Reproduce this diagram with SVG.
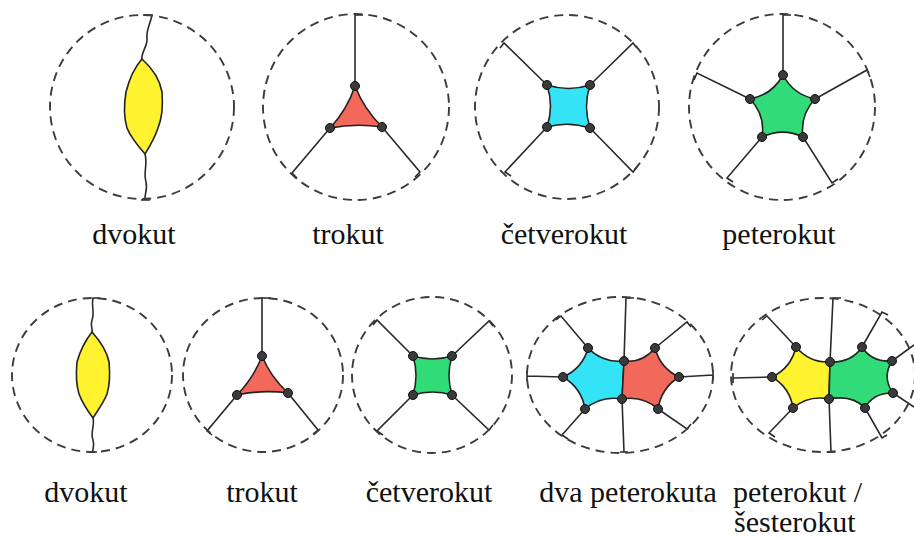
<svg xmlns="http://www.w3.org/2000/svg" width="914" height="539" viewBox="0 0 914 539">
<style>
.ring{fill:none;stroke:#3c3c3c;stroke-width:1.9;stroke-dasharray:9 6}
.edge{fill:none;stroke:#2a2a2a;stroke-width:1.6;stroke-linejoin:miter}
.face{stroke:#222;stroke-width:1.6;stroke-linejoin:round}
.y{fill:#fff22e}.r{fill:#f2695c}.c{fill:#35e3f7}.g{fill:#31dc78}
.dot{fill:#3a3a3a;stroke:#111;stroke-width:1}
svg #labels text{font-family:"Liberation Serif",serif !important;font-size:30px;fill:#111}
</style>
<rect width="914" height="539" fill="#fff"/>

<g id="connectors">
  <path class="edge" d="M143,15 H152 C150,25 146,30 147,38 C148,46 141,52 142,59"/>
  <path class="edge" d="M145,154 C148,165 143,172 146,182 C148,190 144,195 145,200 M141,200 H150"/>
  <path class="edge" d="M355,86 V15 h8"/>
  <path class="edge" d="M330,128 L292,173 l5,5"/>
  <path class="edge" d="M382,127 L420,172 l-5,5"/>
  <path class="edge" d="M547,85 L504,43 l-4,5"/>
  <path class="edge" d="M590,85 L633,43 l4,5"/>
  <path class="edge" d="M547,127 L505,172 l6,4"/>
  <path class="edge" d="M590,128 L633,172 l4,-5"/>
  <path class="edge" d="M783,75 V15 h8"/>
  <path class="edge" d="M750,99 L697,73 l-3,7"/>
  <path class="edge" d="M815,99 L867,70 l3,7"/>
  <path class="edge" d="M762,137 L727,178 l6,4"/>
  <path class="edge" d="M803,137 L832,183 l6,-4"/>
  <path class="edge" d="M100,298 H93 C91,306 95,312 92,320 C90,326 93,329 92,332"/>
  <path class="edge" d="M93,418 C95,426 90,432 93,440 C95,446 92,449 93,452 M89,452 H97"/>
  <path class="edge" d="M262,356 V298 h9"/>
  <path class="edge" d="M237,395 L207,431 l5,4"/>
  <path class="edge" d="M288,393 L318,430 l-5,4"/>
  <path class="edge" d="M413,356 L377,320 l-4,5"/>
  <path class="edge" d="M452,356 L489,321 l4,5"/>
  <path class="edge" d="M413,395 L377,431 l6,4"/>
  <path class="edge" d="M452,395 L489,430 l4,-5"/>
  <path class="edge" d="M624,361 L626,298 h8"/>
  <path class="edge" d="M622,399 L624,452 M620,452 h8"/>
  <path class="edge" d="M588,348 L561,316 l-5,4"/>
  <path class="edge" d="M563,377 L527,376 M527,371 v10"/>
  <path class="edge" d="M585,409 L562,435 l6,4"/>
  <path class="edge" d="M655,348 L687,322 l4,5"/>
  <path class="edge" d="M679,377 L713,375 M713,370 v10"/>
  <path class="edge" d="M658,409 L687,429 l4,-5"/>
  <path class="edge" d="M830,362 L833,298 h8"/>
  <path class="edge" d="M829,399 L831,452 M827,452 h8"/>
  <path class="edge" d="M796,347 L767,316 l-5,4"/>
  <path class="edge" d="M772,377 L733,378 M733,373 v10"/>
  <path class="edge" d="M793,408 L769,433 l6,4"/>
  <path class="edge" d="M862,347 L882,312 l6,3"/>
  <path class="edge" d="M892,361 L914,345"/>
  <path class="edge" d="M893,393 L914,407"/>
  <path class="edge" d="M865,408 L882,438 l5,-3"/>
</g>

<g id="n-dvokut-1">
  <circle class="ring" cx="142" cy="107" r="92"/>
  <path class="face y" d="M142,59 C152,68 160,80 162,92 C163,104 162,118 158,128 C155,137 150,146 145,154 C138,146 131,138 127,128 C124,118 124,104 126,92 C129,80 134,68 142,59 Z"/>
</g>

<g id="n-trokut-1">
  <circle class="ring" cx="356" cy="107" r="93"/>
  <path class="face r" d="M355,86 Q364,109 382,127 Q356,123 330,128 Q347,110 355,86 Z"/>
  <circle class="dot" cx="355" cy="86" r="4.5"/><circle class="dot" cx="330" cy="128" r="4.5"/><circle class="dot" cx="382" cy="127" r="4.5"/>
</g>

<g id="n-cetverokut-1">
  <circle class="ring" cx="567" cy="107" r="92"/>
  <path class="face c" d="M547,85 Q568.5,92 590,85 Q583,106.5 590,128 Q568.5,121 547,127 Q554,106 547,85 Z"/>
  <circle class="dot" cx="547" cy="85" r="4.5"/><circle class="dot" cx="590" cy="85" r="4.5"/><circle class="dot" cx="547" cy="127" r="4.5"/><circle class="dot" cx="590" cy="128" r="4.5"/>
</g>

<g id="n-peterokut-1">
  <circle class="ring" cx="782" cy="107" r="93"/>
  <path class="face g" d="M783,75 Q793.4,94.7 815,99 Q799.9,114.9 803,137 Q782.7,127.2 762,137 Q765.5,114.9 750,99 Q772.3,94.7 783,75 Z"/>
  <circle class="dot" cx="783" cy="75" r="4.5"/><circle class="dot" cx="750" cy="99" r="4.5"/><circle class="dot" cx="815" cy="99" r="4.5"/><circle class="dot" cx="762" cy="137" r="4.5"/><circle class="dot" cx="803" cy="137" r="4.5"/>
</g>

<g id="n-dvokut-2">
  <ellipse class="ring" cx="92" cy="375" rx="80" ry="77"/>
  <path class="face y" d="M92,332 C100,341 107,351 109,362 C110,372 110,384 107,394 C104,402 98,410 93,418 C87,410 82,402 79,394 C76,384 76,372 77,362 C80,351 85,341 92,332 Z"/>
</g>

<g id="n-trokut-2">
  <ellipse class="ring" cx="263" cy="375" rx="80" ry="77"/>
  <path class="face r" d="M262,356 Q270.5,376.8 288,393 Q262.3,389.5 237,395 Q253.9,377.4 262,356 Z"/>
  <circle class="dot" cx="262" cy="356" r="4.5"/><circle class="dot" cx="237" cy="395" r="4.5"/><circle class="dot" cx="288" cy="393" r="4.5"/>
</g>

<g id="n-cetverokut-2">
  <ellipse class="ring" cx="432" cy="375" rx="80" ry="78"/>
  <path class="face g" d="M413,356 Q432.5,362 452,356 Q446,375.5 452,395 Q432.5,389 413,395 Q419,375.5 413,356 Z"/>
  <circle class="dot" cx="413" cy="356" r="4.5"/><circle class="dot" cx="452" cy="356" r="4.5"/><circle class="dot" cx="413" cy="395" r="4.5"/><circle class="dot" cx="452" cy="395" r="4.5"/>
</g>

<g id="n-dva-peterokuta">
  <ellipse class="ring" cx="620" cy="375" rx="93" ry="78"/>
  <path class="face c" d="M588,348 Q602.5,363 624,361 L622,399 Q600.9,395.3 585,409 Q581.7,388.1 563,377 Q582.7,368.3 588,348 Z"/>
  <path class="face r" d="M624,361 Q642.5,363.1 655,348 Q660.4,368.3 679,377 Q661.3,388.1 658,409 Q642.8,395.3 622,399 Z"/>
  <circle class="dot" cx="588" cy="348" r="4.5"/><circle class="dot" cx="563" cy="377" r="4.5"/><circle class="dot" cx="585" cy="409" r="4.5"/>
  <circle class="dot" cx="624" cy="361" r="4.5"/><circle class="dot" cx="622" cy="399" r="4.5"/>
  <circle class="dot" cx="655" cy="348" r="4.5"/><circle class="dot" cx="679" cy="377" r="4.5"/><circle class="dot" cx="658" cy="409" r="4.5"/>
</g>

<g id="n-peterokut-sesterokut">
  <ellipse class="ring" cx="823" cy="375" rx="92" ry="77"/>
  <path class="face y" d="M796,347 Q809.9,363.1 830,362 L829,399 Q808.5,394.9 793,408 Q790,387.8 772,377 Q791,368 796,347 Z"/>
  <path class="face g" d="M830,362 Q851.6,362.7 862,347 Q871.8,362.4 892,361 Q881.8,377.4 893,393 Q873,392.6 865,408 Q852.3,394.6 829,399 Z"/>
  <circle class="dot" cx="796" cy="347" r="4.5"/><circle class="dot" cx="772" cy="377" r="4.5"/><circle class="dot" cx="793" cy="408" r="4.5"/>
  <circle class="dot" cx="830" cy="362" r="4.5"/><circle class="dot" cx="829" cy="399" r="4.5"/>
  <circle class="dot" cx="862" cy="347" r="4.5"/><circle class="dot" cx="892" cy="361" r="4.5"/><circle class="dot" cx="893" cy="393" r="4.5"/><circle class="dot" cx="865" cy="408" r="4.5"/>
</g>

<g id="labels">
  <text x="134" y="244" style="font-family:'Liberation Serif'" text-anchor="middle">dvokut</text>
  <text x="348" y="244" style="font-family:'Liberation Serif'" text-anchor="middle">trokut</text>
  <text x="564" y="244" style="font-family:'Liberation Serif'" text-anchor="middle">četverokut</text>
  <text x="779" y="244" style="font-family:'Liberation Serif'" text-anchor="middle">peterokut</text>
  <text x="86" y="502" style="font-family:'Liberation Serif'" text-anchor="middle">dvokut</text>
  <text x="262" y="502" style="font-family:'Liberation Serif'" text-anchor="middle">trokut</text>
  <text x="429" y="502" style="font-family:'Liberation Serif'" text-anchor="middle">četverokut</text>
  <text x="628" y="502" style="font-family:'Liberation Serif'" text-anchor="middle">dva peterokuta</text>
  <text x="733" y="502" style="font-family:'Liberation Serif'" text-anchor="start">peterokut /</text>
  <text x="734" y="532" style="font-family:'Liberation Serif'" text-anchor="start">šesterokut</text>
</g>
</svg>
